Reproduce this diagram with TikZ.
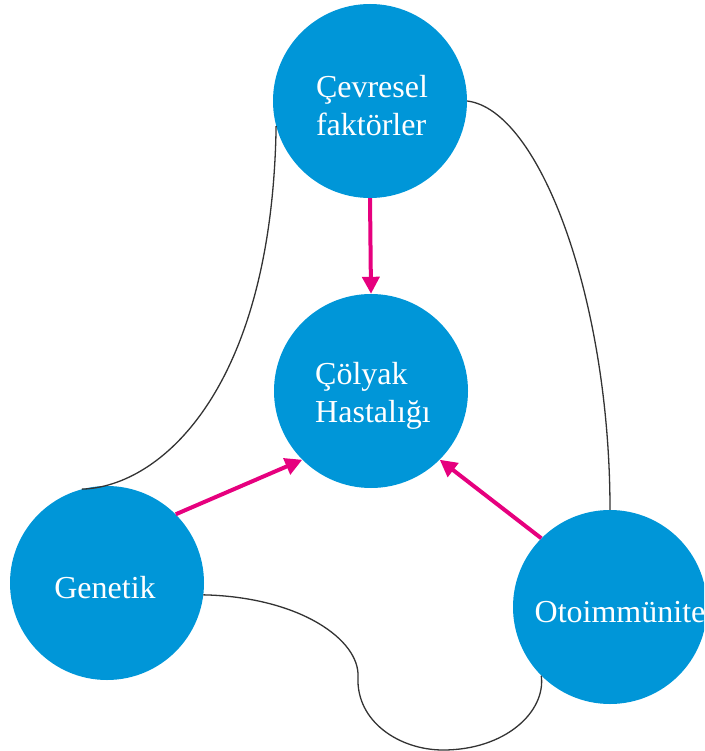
\documentclass[tikz,border=0pt]{standalone}
\usepackage{fontspec}
\setmainfont{Liberation Serif}
\usetikzlibrary{arrows.meta}
\definecolor{bub}{HTML}{0096D8}
\definecolor{pinkarrow}{HTML}{E6007E}
\definecolor{curvecol}{HTML}{333333}
\tikzset{
  bubble/.style={circle, fill=bub, minimum size=194pt, inner sep=0pt},
  bubtext/.style={text=white, font=\fontsize{32}{38}\selectfont, align=left, inner sep=0pt},
  pinkarr/.style={draw=pinkarrow, line width=4pt, -{Triangle[length=17pt,width=17pt]}},
  link/.style={draw=curvecol, line width=1.3pt}
}
\begin{document}
\begin{tikzpicture}[x=1pt,y=-1pt]
\useasboundingbox (0,0) rectangle (704,751);
\clip (0,0) rectangle (704,751);
\node[bubble] (cev) at (370,101) {};
\node[bubble] (col) at (371,391) {};
\node[bubble] (gen) at (107,583) {};
\node[bubble] (oto) at (610,607) {};
\node[bubtext] (cevt) at ([xshift=2pt,yshift=-5pt]cev.center) {Çevresel\\faktörler};
\node[bubtext] (colt) at ([xshift=2pt,yshift=-5pt]col.center) {Çölyak\\Hastalığı};
\node[bubtext] (gent) at ([xshift=-2pt,yshift=-5pt]gen.center) {Genetik};
\node[bubtext] (otot) at ([xshift=10pt,yshift=-5pt]oto.center) {Otoimmünite};
% connecting curves
\draw[link] (cev.195) .. controls (272,390) and (160,487) .. (gen.105);
\draw[link] (cev.east) .. controls (540,110) and (610,300) .. (oto.north);
\draw[link] (gen.-7) .. controls (300,597) and (360,640) .. (358,677)
  .. controls (356,722) and (400,750) .. (443,750)
  .. controls (505,750) and (546,712) .. (oto.225);
% arrows
\draw[pinkarr] (cev.south) -- (col.north);
\draw[pinkarr] (gen.45) -- (col.225);
\draw[pinkarr] (oto.135) -- (col.-45);
\end{tikzpicture}
\end{document}
